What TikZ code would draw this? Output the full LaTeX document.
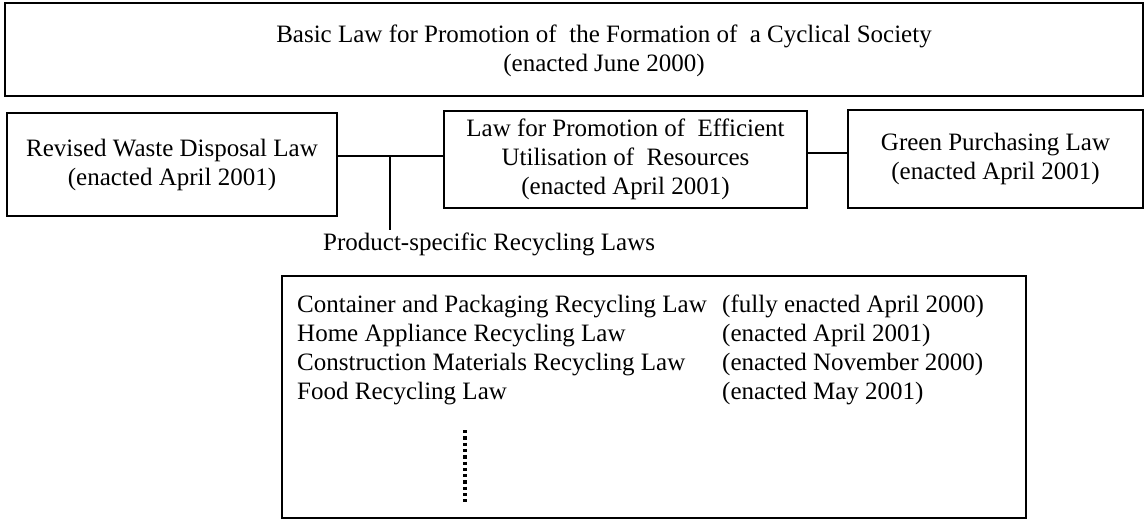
\documentclass[tikz,border=0pt]{standalone}
\usepackage{fontspec}
\setmainfont{Liberation Serif}
\begin{document}
\begin{tikzpicture}[x=1pt,y=-1pt,
  box/.style={draw=black,line width=2pt,rectangle,inner sep=0pt,align=center,
    font=\fontsize{25}{29}\selectfont},
  txt/.style={inner sep=0pt,font=\fontsize{25}{29}\selectfont},
  conn/.style={draw=black,line width=1.5pt},
  dotline/.style={draw=black,line width=3.3pt,dash pattern=on 3.3pt off 3pt}]
\useasboundingbox (0,0) rectangle (1144,522);
% top box
\node[box,minimum width=1138,minimum height=93] (basicbox) at (574,49.5) {};
\node[txt,align=center] (basic) at (604,51) {Basic Law for Promotion of\ \ the Formation of\ \ a Cyclical Society\\(enacted June 2000)};
% second row
\node[box,minimum width=330,minimum height=103] (waste) at (172,164.5) {Revised Waste Disposal Law\\(enacted April 2001)};
\node[box,minimum width=363,minimum height=97] (efficient) at (625.5,159.5) {Law for Promotion of\ \ Efficient\\Utilisation of\ \ Resources\\(enacted April 2001)};
\node[box,minimum width=295,minimum height=98] (green) at (995.5,159) {Green Purchasing Law\\(enacted April 2001)};
% connectors
\coordinate (j) at (390,156);
\coordinate (jend) at (390,230);
\coordinate (k) at (827,153);
\draw[conn] (waste.east |- j) -- (efficient.west |- j);
\draw[conn] (j) -- (jend);
\draw[conn] (efficient.east |- k) -- (green.west |- k);
\node[txt,anchor=base west] (prod) at (323,250) {Product-specific Recycling Laws};
% bottom box
\node[box,minimum width=744,minimum height=242] (laws) at (654,397) {};
\node[txt,anchor=base west] (l1) at (297,312) {Container and Packaging Recycling Law};
\node[txt,anchor=base west] (l2) at (297,341) {Home Appliance Recycling Law};
\node[txt,anchor=base west] (l3) at (297,370) {Construction Materials Recycling Law};
\node[txt,anchor=base west] (l4) at (297,399) {Food Recycling Law};
\node[txt,anchor=base west] (d1) at (722,312) {(fully enacted April 2000)};
\node[txt,anchor=base west] (d2) at (722,341) {(enacted April 2001)};
\node[txt,anchor=base west] (d3) at (722,370) {(enacted November 2000)};
\node[txt,anchor=base west] (d4) at (722,399) {(enacted May 2001)};
\coordinate (dtop) at (465,430);
\coordinate (dbot) at (465,502);
\draw[dotline] (dtop) -- (dbot);
\end{tikzpicture}
\end{document}
